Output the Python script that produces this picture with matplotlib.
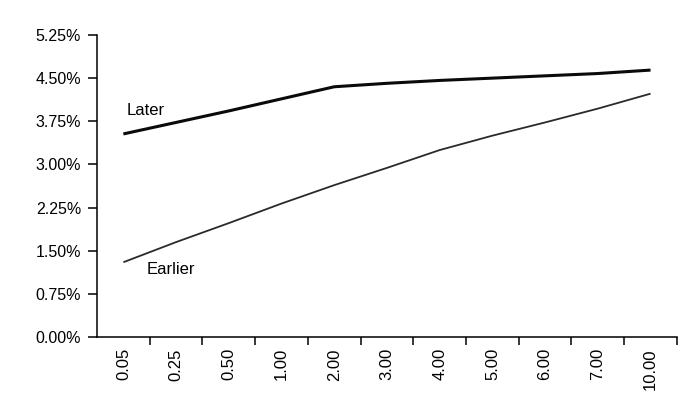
import matplotlib
matplotlib.use('Agg')
import matplotlib.pyplot as plt
from matplotlib.ticker import FuncFormatter
import numpy as np

plt.rcParams['font.family'] = ['Liberation Sans', 'DejaVu Sans']

# category labels on the x axis
categories = ['0.05', '0.25', '0.50', '1.00', '2.00', '3.00', '4.00', '5.00', '6.00', '7.00', '10.00']

# values in percent
later = [3.53, 3.73, 3.93, 4.14, 4.35, 4.41, 4.46, 4.50, 4.54, 4.58, 4.64]
earlier = [1.30, 1.65, 1.98, 2.32, 2.64, 2.94, 3.25, 3.50, 3.73, 3.97, 4.23]

yticks = [0.0, 0.75, 1.50, 2.25, 3.00, 3.75, 4.50, 5.25]

fig = plt.figure(figsize=(7.0, 4.04), dpi=100)
ax = fig.add_axes([0.1386, 0.1658, 0.967 - 0.1386, 0.9134 - 0.1658])

x = np.arange(len(categories))
ax.plot(x, later, color='#0a0a0a', lw=2.2, solid_capstyle='butt')
ax.plot(x, earlier, color='#2a2a2a', lw=1.3, solid_capstyle='butt')

ax.text(0.07, 3.93, 'Later', fontsize=12, ha='left', va='center')
ax.text(0.45, 1.17, 'Earlier', fontsize=12, ha='left', va='center')

ax.set_xlim(-0.5, len(categories) - 0.5)
ax.set_ylim(0, 5.25)

ax.set_xticks(x)
ax.set_xticklabels(categories, rotation=90, fontsize=12)
ax.set_xticks(np.arange(len(categories)) + 0.5, minor=True)
ax.tick_params(axis='x', which='major', length=0, pad=8)
ax.tick_params(axis='x', which='minor', length=6, width=1.1, direction='out')

ax.set_yticks(yticks)
ax.yaxis.set_major_formatter(FuncFormatter(lambda v, p: f'{v:.2f}%'))
ax.tick_params(axis='y', length=6.5, width=1.1, pad=5, labelsize=11.5)

for s in ['top', 'right']:
    ax.spines[s].set_visible(False)
for s in ['left', 'bottom']:
    ax.spines[s].set_linewidth(1.1)

fig.savefig('out.png', dpi=100)
